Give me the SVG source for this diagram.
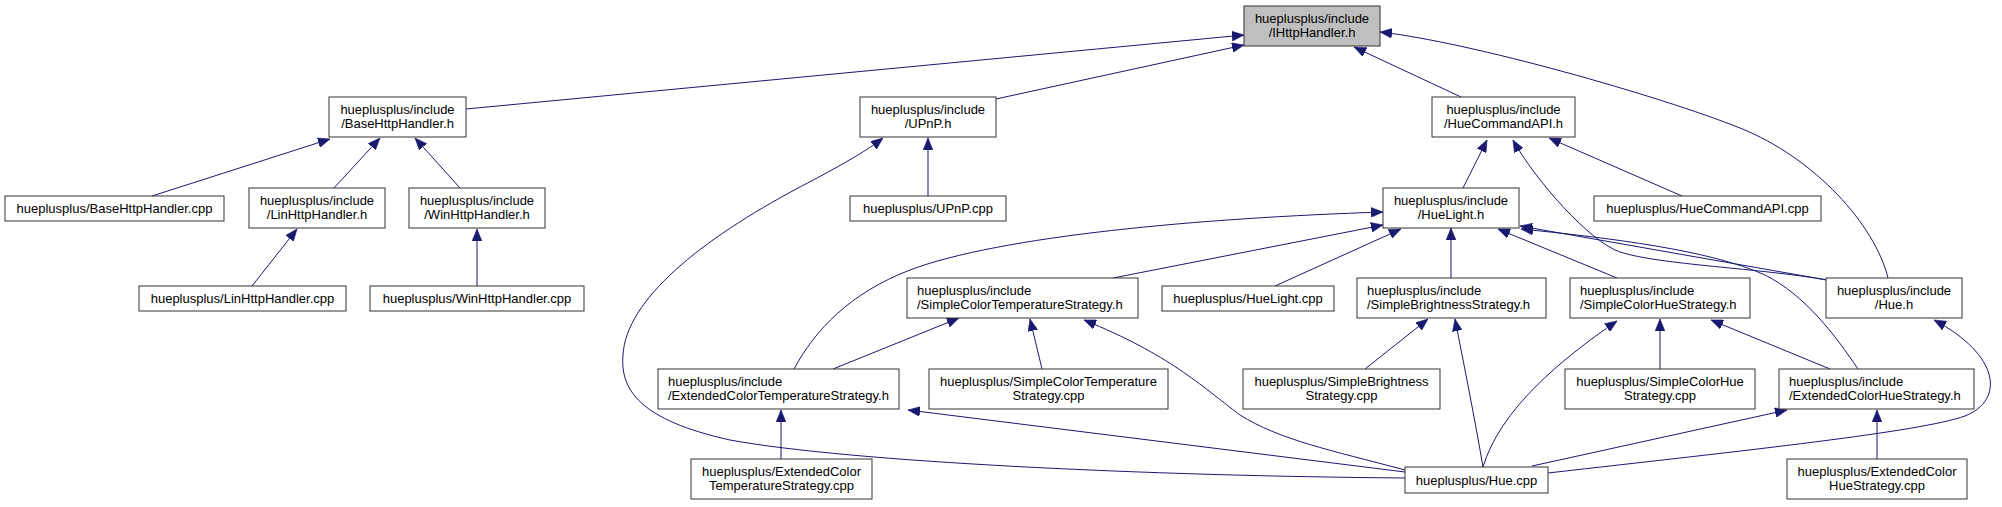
<svg xmlns="http://www.w3.org/2000/svg" width="2002" height="507" viewBox="0 0 2002 507">
<defs>
<style>
.n rect{fill:#ffffff;stroke:#333333;stroke-width:1}
.n.root rect{fill:#bfbfbf}
.n text{font-family:"Liberation Sans",Arial,Helvetica,sans-serif;font-size:13px;fill:#000000}
.c{text-anchor:middle}
.e path{fill:none;stroke:#191970;stroke-width:1;marker-end:url(#ah)}
</style>
<marker id="ah" markerUnits="userSpaceOnUse" markerWidth="12" markerHeight="10" viewBox="0 0 11 9" refX="11" refY="4.5" orient="auto">
<path d="M0,0 L11,4.5 L0,9 z" fill="#191970" stroke="#191970" stroke-width="0.5"/>
</marker>
</defs>
<rect width="2002" height="507" fill="#ffffff"/>
<g id="connectors" class="e">
<path d="M466,109 L1244,35"/>
<path d="M996,99 L1244,45"/>
<path d="M1461,97 L1354,47"/>
<path d="M1888,278 C1875,225 1815,158 1740,128 C1660,96 1470,42 1380,32"/>
<path d="M152,196 L330,139"/>
<path d="M334,188 L380,138"/>
<path d="M460,188 L415,138"/>
<path d="M252,286 L297,229"/>
<path d="M477,286 L477,229"/>
<path d="M928,196 L928,138"/>
<path d="M1405,478 C1150,476 850,462 730,440 C640,420 620,390 623,355 C626,300 700,240 800,187 C840,166 865,152 883,138"/>
<path d="M1463,188 L1487,140"/>
<path d="M1827,280 C1760,268 1660,265 1620,252 C1590,242 1535,180 1513,140"/>
<path d="M1682,196 L1549,138"/>
<path d="M1113,278 L1383,225"/>
<path d="M794,369 C815,330 850,293 910,270 C1000,236 1200,218 1383,212"/>
<path d="M1275,286 L1401,229"/>
<path d="M1451,278 L1451,228"/>
<path d="M1617,278 L1498,229"/>
<path d="M1827,280 L1520,226"/>
<path d="M1858,369 C1835,335 1805,295 1765,275 C1710,250 1610,238 1521,229"/>
<path d="M833,369 L959,318"/>
<path d="M1042,369 L1030,319"/>
<path d="M1405,470 C1330,450 1280,440 1240,415 C1200,385 1170,355 1084,320"/>
<path d="M781,459 L781,410"/>
<path d="M1405,472 L908,410"/>
<path d="M1365,369 L1428,319"/>
<path d="M1483,467 C1475,420 1465,370 1455,319"/>
<path d="M1660,369 L1660,319"/>
<path d="M1830,369 L1711,320"/>
<path d="M1483,467 C1500,410 1560,360 1617,321"/>
<path d="M1532,466 L1787,410"/>
<path d="M1877,459 L1877,410"/>
<path d="M1548,473 C1750,450 1920,432 1965,416 C2005,400 2000,355 1934,320"/>
</g>
<g id="n_IHttpHandler_h" class="n root"><rect x="1244" y="6" width="136" height="40"/><text class="c" x="1312" y="22.5">hueplusplus/include</text><text class="c" x="1312" y="37">/IHttpHandler.h</text></g>
<g id="n_BaseHttpHandler_h" class="n"><rect x="329" y="97" width="137" height="40"/><text class="c" x="397.5" y="113.5">hueplusplus/include</text><text class="c" x="397.5" y="128">/BaseHttpHandler.h</text></g>
<g id="n_UPnP_h" class="n"><rect x="860" y="97" width="136" height="40"/><text class="c" x="928" y="113.5">hueplusplus/include</text><text class="c" x="928" y="128">/UPnP.h</text></g>
<g id="n_HueCommandAPI_h" class="n"><rect x="1432" y="97" width="143" height="40"/><text class="c" x="1503.5" y="113.5">hueplusplus/include</text><text class="c" x="1503.5" y="128">/HueCommandAPI.h</text></g>
<g id="n_BaseHttpHandler_cpp" class="n"><rect x="5" y="196" width="219" height="25"/><text class="c" x="114.5" y="213">hueplusplus/BaseHttpHandler.cpp</text></g>
<g id="n_LinHttpHandler_h" class="n"><rect x="249" y="188" width="136" height="40"/><text class="c" x="317" y="204.5">hueplusplus/include</text><text class="c" x="317" y="219">/LinHttpHandler.h</text></g>
<g id="n_WinHttpHandler_h" class="n"><rect x="409" y="188" width="136" height="40"/><text class="c" x="477" y="204.5">hueplusplus/include</text><text class="c" x="477" y="219">/WinHttpHandler.h</text></g>
<g id="n_UPnP_cpp" class="n"><rect x="850" y="196" width="156" height="25"/><text class="c" x="928" y="213">hueplusplus/UPnP.cpp</text></g>
<g id="n_HueLight_h" class="n"><rect x="1383" y="188" width="136" height="40"/><text class="c" x="1451" y="204.5">hueplusplus/include</text><text class="c" x="1451" y="219">/HueLight.h</text></g>
<g id="n_HueCommandAPI_cpp" class="n"><rect x="1594" y="196" width="227" height="25"/><text class="c" x="1707.5" y="213">hueplusplus/HueCommandAPI.cpp</text></g>
<g id="n_LinHttpHandler_cpp" class="n"><rect x="139" y="286" width="207" height="25"/><text class="c" x="242.5" y="303">hueplusplus/LinHttpHandler.cpp</text></g>
<g id="n_WinHttpHandler_cpp" class="n"><rect x="370" y="286" width="214" height="25"/><text class="c" x="477" y="303">hueplusplus/WinHttpHandler.cpp</text></g>
<g id="n_SimpleColorTemperatureStrategy_h" class="n"><rect x="907" y="278" width="231" height="40"/><text x="917" y="294.5">hueplusplus/include</text><text x="917" y="309">/SimpleColorTemperatureStrategy.h</text></g>
<g id="n_HueLight_cpp" class="n"><rect x="1162" y="286" width="172" height="25"/><text class="c" x="1248" y="303">hueplusplus/HueLight.cpp</text></g>
<g id="n_SimpleBrightnessStrategy_h" class="n"><rect x="1357" y="278" width="189" height="40"/><text x="1367" y="294.5">hueplusplus/include</text><text x="1367" y="309">/SimpleBrightnessStrategy.h</text></g>
<g id="n_SimpleColorHueStrategy_h" class="n"><rect x="1570" y="278" width="180" height="40"/><text x="1580" y="294.5">hueplusplus/include</text><text x="1580" y="309">/SimpleColorHueStrategy.h</text></g>
<g id="n_Hue_h" class="n"><rect x="1826" y="278" width="136" height="40"/><text class="c" x="1894" y="294.5">hueplusplus/include</text><text class="c" x="1894" y="309">/Hue.h</text></g>
<g id="n_ExtendedColorTemperatureStrategy_h" class="n"><rect x="658" y="369" width="241" height="40"/><text x="668" y="385.5">hueplusplus/include</text><text x="668" y="400">/ExtendedColorTemperatureStrategy.h</text></g>
<g id="n_SimpleColorTemperatureStrategy_cpp" class="n"><rect x="929" y="369" width="239" height="40"/><text class="c" x="1048.5" y="385.5">hueplusplus/SimpleColorTemperature</text><text class="c" x="1048.5" y="400">Strategy.cpp</text></g>
<g id="n_SimpleBrightnessStrategy_cpp" class="n"><rect x="1243" y="369" width="197" height="40"/><text class="c" x="1341.5" y="385.5">hueplusplus/SimpleBrightness</text><text class="c" x="1341.5" y="400">Strategy.cpp</text></g>
<g id="n_SimpleColorHueStrategy_cpp" class="n"><rect x="1565" y="369" width="190" height="40"/><text class="c" x="1660" y="385.5">hueplusplus/SimpleColorHue</text><text class="c" x="1660" y="400">Strategy.cpp</text></g>
<g id="n_ExtendedColorHueStrategy_h" class="n"><rect x="1779" y="369" width="195" height="40"/><text x="1789" y="385.5">hueplusplus/include</text><text x="1789" y="400">/ExtendedColorHueStrategy.h</text></g>
<g id="n_ExtendedColorTemperatureStrategy_cpp" class="n"><rect x="691" y="459" width="181" height="40"/><text class="c" x="781.5" y="475.5">hueplusplus/ExtendedColor</text><text class="c" x="781.5" y="490">TemperatureStrategy.cpp</text></g>
<g id="n_Hue_cpp" class="n"><rect x="1405" y="467" width="143" height="26"/><text class="c" x="1476.5" y="484.5">hueplusplus/Hue.cpp</text></g>
<g id="n_ExtendedColorHueStrategy_cpp" class="n"><rect x="1787" y="459" width="180" height="40"/><text class="c" x="1877" y="475.5">hueplusplus/ExtendedColor</text><text class="c" x="1877" y="490">HueStrategy.cpp</text></g>
</svg>
